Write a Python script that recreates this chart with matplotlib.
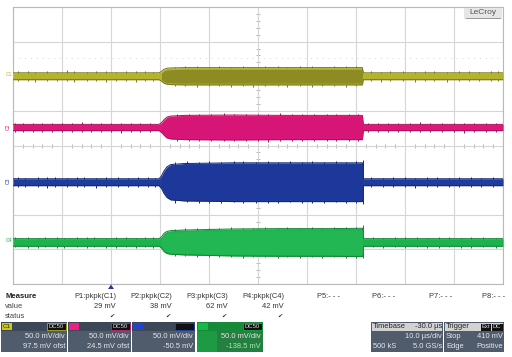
import matplotlib
matplotlib.use('Agg')
import matplotlib.pyplot as plt
from matplotlib.patches import Rectangle, Polygon
import numpy as np

plt.rcParams['font.family'] = ['Liberation Sans', 'DejaVu Sans']

# ---------------- data (read from the screen) ----------------
# time axis: 10 µs/div, 10 divisions, trigger at -20 µs from left edge
t_env = [-20, 9.8, 10.3, 10.8, 11.4, 12.2, 15, 25, 35, 45, 51.3, 51.5, 80]   # µs
channels = ['C1', 'C2', 'C3', 'C4']
centres = [100, 26, -53, -140]          # mV on the 50 mV/div screen
# envelope half-widths (mV)
c1_half = [5.0, 5.0, 7, 10, 11.5, 12.0, 12.5, 12.5, 12.5, 12.5, 12.5, 5.0, 5.0]
c2_half = [4.5, 4.5, 7, 11, 15, 16.5, 17.5, 18, 17.5, 17.5, 17.5, 4.5, 4.5]
c3_half = [5.0, 5.0, 9, 16, 22, 25.5, 27, 28, 28, 28, 28, 5.0, 5.0]
c4_half = [5.5, 5.5, 8, 13, 16, 17, 18, 19.5, 20, 20, 20.5, 5.5, 5.5]
halves = [c1_half, c2_half, c3_half, c4_half]
# noise spikes: time (µs), extent above and below centre (mV)
c1_spk_t = [-19, -17, -15.5, -13, -11, -9, -7.5, -5, -3, -1, 1, 3, 5, 7, 8.5,
            13, 15, 17.5, 20, 22, 24.5, 27, 29, 31.5, 34, 36, 38.5, 41, 43, 45.5, 48, 50,
            53, 55, 57, 59.5, 62, 64, 66, 68.5, 71, 73, 75, 77.5, 79]
c1_spk_up = [7, 8, 6.5, 7.5, 6.5, 8.5, 7, 6.5, 8, 7, 6.5, 7.5, 7, 8, 6.5,
             14, 15, 14.5, 13.5, 15, 14, 15.5, 14, 14.5, 15, 14, 15, 14.5, 13.5, 15, 14.5, 15.5,
             7, 6.5, 8, 7, 6.5, 7.5, 8, 6.5, 7, 7.5, 6.5, 8, 7]
c1_spk_dn = [6.5, 7, 8, 6.5, 7.5, 7, 8.5, 7, 6.5, 8, 7, 6.5, 8, 7, 7.5,
             14.5, 14, 15, 14, 14.5, 15.5, 14, 15, 14, 14.5, 15, 14, 15.5, 14.5, 14, 15, 14.5,
             6.5, 8, 7, 7.5, 8, 6.5, 7, 8, 7.5, 6.5, 7, 7.5, 6.5]
c2_spk_t = [-19.5, -18, -16, -14, -12, -10, -8, -6, -4, -2, 0, 2, 4, 6, 8,
            13.5, 16, 18, 20.5, 23, 25, 27.5, 30, 32, 34.5, 37, 39, 41.5, 44, 46, 48.5, 50.5,
            52.5, 54.5, 56.5, 58.5, 61, 63, 65, 67.5, 70, 72, 74, 76.5, 78.5]
c2_spk_up = [6, 7, 6, 6.5, 7, 6, 6.5, 7.5, 6, 6.5, 7, 6, 6.5, 7, 6,
             19, 20, 19.5, 19, 20.5, 19.5, 19, 20, 19.5, 20.5, 19, 19.5, 20, 19, 20, 19.5, 20,
             6, 6.5, 7, 6, 6.5, 7.5, 6, 6.5, 7, 6, 6.5, 7, 6]
c2_spk_dn = [6.5, 6, 7, 6, 6.5, 7, 6, 6.5, 7, 6, 6.5, 7.5, 6, 6.5, 7,
             19.5, 19, 20, 19.5, 19, 20, 19.5, 19, 20.5, 19, 19.5, 20, 19, 20, 19.5, 19, 20,
             6.5, 7, 6, 6.5, 7, 6, 6.5, 7, 6, 7.5, 6.5, 6, 7]
c3_spk_t = [-19, -17.5, -15, -13, -11.5, -9, -7, -5.5, -3, -1, 1.5, 3.5, 5.5, 7.5, 9,
            13, 15.5, 18, 20, 22.5, 25, 27, 29.5, 32, 34, 36.5, 39, 41, 43.5, 46, 48, 50, 51.4,
            53, 55.5, 57.5, 60, 62, 64.5, 66.5, 69, 71, 73.5, 75.5, 78]
c3_spk_up = [7, 6.5, 7.5, 7, 8, 6.5, 7, 7.5, 6.5, 8, 7, 6.5, 7.5, 7, 6.5,
             29, 30, 29.5, 30.5, 29, 30, 30.5, 29.5, 30, 29, 30.5, 29.5, 30, 29, 30.5, 29.5, 30, 32,
             7, 6.5, 7.5, 7, 6.5, 8, 7, 6.5, 7.5, 7, 6.5, 7]
c3_spk_dn = [6.5, 7.5, 7, 8, 6.5, 7, 7.5, 6.5, 8, 7, 6.5, 7.5, 7, 6.5, 7.5,
             29.5, 29, 30, 29.5, 30.5, 29, 30, 29.5, 30.5, 30, 29, 30, 29.5, 30.5, 29, 30, 29.5, 32,
             6.5, 7.5, 7, 6.5, 8, 7, 6.5, 7.5, 7, 6.5, 7.5, 6.5]
c4_spk_t = [-19.5, -17, -15, -13.5, -11, -9.5, -7, -5, -3.5, -1, 1, 3, 5, 7, 8.5,
            13, 15, 17.5, 20, 22, 24.5, 27, 29, 31.5, 34, 36, 38.5, 41, 43, 45.5, 48, 50, 51.4,
            53.5, 55.5, 58, 60, 62.5, 64.5, 67, 69, 71.5, 73.5, 76, 78.5]
c4_spk_up = [7.5, 8, 7, 8.5, 7.5, 7, 8, 7.5, 8.5, 7, 7.5, 8, 7, 8.5, 7.5,
             19, 20.5, 21, 21.5, 21, 22, 21.5, 21, 22, 21.5, 22, 21.5, 22, 21.5, 22, 22.5, 22, 25,
             7.5, 7, 8, 7.5, 8.5, 7, 7.5, 8, 7, 7.5, 8, 7]
c4_spk_dn = [7, 7.5, 8.5, 7, 8, 7.5, 7, 8.5, 7, 8, 7.5, 7, 8, 7, 7.5,
             19.5, 20, 21.5, 21, 21.5, 21, 22, 21.5, 21, 22, 21.5, 22, 21, 22.5, 21.5, 22, 22.5, 23,
             7, 8, 7, 7.5, 7, 8, 7.5, 7, 8, 7.5, 7, 7.5]
spk_t = [c1_spk_t, c2_spk_t, c3_spk_t, c4_spk_t]
spk_up = [c1_spk_up, c2_spk_up, c3_spk_up, c4_spk_up]
spk_dn = [c1_spk_dn, c2_spk_dn, c3_spk_dn, c4_spk_dn]
burst = (10.0, 51.4)

fill_cols = ['#b3b330', '#e0177a', '#1f3c9c', '#1cb24c']
burst_cols = ['#8c8c22', '#d61577', '#1d389a', '#22b752']
edge_cols = ['#77771a', '#a8105a', '#14286e', '#128536']

# measurements
meas_names = ['P1:pkpk(C1)', 'P2:pkpk(C2)', 'P3:pkpk(C3)', 'P4:pkpk(C4)', 'P5:- - -', 'P6:- - -', 'P7:- - -', 'P8:- - -']
meas_vals = ['29 mV', '38 mV', '62 mV', '42 mV', '', '', '', '']
vdiv = ['50.0 mV/div'] * 4
offsets = ['97.5 mV ofst', '24.5 mV ofst', '-50.5 mV', '-138.5 mV']

# ---------------- figure ----------------
fig = plt.figure(figsize=(5.12, 3.57), dpi=100)
fig.patch.set_facecolor('white')
ax = fig.add_axes([13/512, 1-284/357, 490/512, 277/357])
ax.set_xlim(-20, 80)
ax.set_ylim(-200, 200)
ax.set_xticks(np.arange(-20, 81, 10))
ax.set_yticks(np.arange(-200, 201, 50))
ax.tick_params(length=0, labelbottom=False, labelleft=False)
ax.grid(True, color='#d6d6d6', lw=0.8)
for s in ax.spines.values():
    s.set_color('#b8b8b8'); s.set_linewidth(0.8)
# centre axes with minor ticks
ax.plot(np.arange(-20, 80.1, 2), np.zeros(51), ls='none', marker='|', ms=2.5, mew=0.6, color='#a8a8a8', zorder=1)
ax.plot(np.full(41, 30), np.arange(-200, 200.1, 10), ls='none', marker='_', ms=2.5, mew=0.6, color='#a8a8a8', zorder=1)
ax.axhline(126, color='#c8c8c8', lw=0.6, ls=(0, (1, 6)), zorder=1)

t = np.array(t_env)
inb = (t >= burst[0]) & (t <= burst[1])
for i in range(4):
    c = centres[i]; h = np.array(halves[i])
    ax.vlines(spk_t[i], c - np.array(spk_dn[i]), c + np.array(spk_up[i]), color=edge_cols[i], lw=0.7, zorder=2)
    ax.fill_between(t, c - h, c + h, color=fill_cols[i], lw=0, zorder=3)
    ax.plot(t, c + h, color=edge_cols[i], lw=0.7, zorder=3)
    ax.plot(t, c - h, color=edge_cols[i], lw=0.7, zorder=3)
    ax.fill_between(t, c - h + 2.5, c + h - 2.5, where=inb, color=burst_cols[i], lw=0, zorder=4)

# ---------------- overlay for panel ----------------
ov = fig.add_axes([0, 0, 1, 1])
ov.set_xlim(0, 512); ov.set_ylim(357, 0); ov.axis('off')
ov.patch.set_alpha(0)

lab_y = [74, 127, 181, 240]
rot = [0, 90, 90, 0]
for i in range(4):
    ov.text(8.5, lab_y[i], channels[i], color=fill_cols[i], fontsize=3.6, ha='center', va='center', rotation=rot[i])

# LeCroy logo
ov.add_patch(Rectangle((464, 7.5), 38, 11, color='#e6e6e6', lw=0))
ov.text(483, 13, 'LeCroy', fontsize=6, color='#555555', ha='center', va='center')
ov.plot([466, 500], [17.5, 17.5], color='#777777', lw=0.5)

# trigger marker
ov.add_patch(Polygon([[108, 289], [114, 289], [111, 284.5]], closed=True, color='#2636a8', lw=0))

# measure table
ov.text(5, 296, 'Measure', fontsize=5.6, fontweight='bold', color='#222222', va='center')
ov.text(5, 306, 'value', fontsize=5.4, color='#444444', va='center')
ov.text(5, 316, 'status', fontsize=5.4, color='#444444', va='center')
col_right = [116, 172, 228, 284, 340, 395, 452, 505]
for k in range(8):
    ov.text(col_right[k], 296, meas_names[k], fontsize=5.4, color='#333333', ha='right', va='center')
    if meas_vals[k]:
        ov.text(col_right[k], 306, meas_vals[k], fontsize=5.4, color='#333333', ha='right', va='center')
        ov.text(col_right[k] - 4, 316, '\u2714', fontsize=4.5, color='#333333', ha='center', va='center', family='DejaVu Sans')

# channel boxes
box_x = [1, 68, 132, 197]
box_w = [66, 63, 63, 66]
sq_cols = ['#c8c81e', '#ee1f82', '#2545c8', '#18b848']
for i in range(4):
    x0 = box_x[i]; w = box_w[i]
    base = '#1f9a44' if i == 3 else '#505c6c'
    ov.add_patch(Rectangle((x0, 322), w, 30, color=base, lw=0))
    ov.add_patch(Rectangle((x0, 322), w, 9, color='#3c4757' if i < 3 else '#168a38', lw=0))
    if i == 3:
        ov.add_patch(Rectangle((x0 + 20, 331), w - 20, 21, color='#2a6e40', lw=0, alpha=0.6))
    ov.add_patch(Rectangle((x0 + 1, 323), 10, 7, color=sq_cols[i], lw=0))
    if i == 0:
        ov.text(x0 + 2, 326.5, 'C1', fontsize=4.5, color='#333300', va='center')
    ov.add_patch(Rectangle((x0 + w - 20, 323), 19, 7, facecolor='#111111', edgecolor=sq_cols[i], lw=0.5))
    if i != 2:
        ov.text(x0 + w - 10.5, 326.5, 'DC50', fontsize=4.3, color='#dddddd', ha='center', va='center')
    ov.text(x0 + w - 2, 336.5, vdiv[i], fontsize=5.4, color='#e8e8e8', ha='right', va='center')
    ov.text(x0 + w - 2, 346, offsets[i], fontsize=5.4, color='#e8e8e8' if i < 3 else '#9ff0b0', ha='right', va='center')

# timebase box
ov.add_patch(Rectangle((371, 322), 72, 30, color='#505c6c', lw=0))
ov.add_patch(Rectangle((372, 323), 70, 8, color='#d2d2d2', lw=0))
ov.text(373, 327, 'Timebase', fontsize=5.4, color='#222222', va='center')
ov.text(442, 327, '-30.0 µs', fontsize=5.4, color='#222222', va='center', ha='right')
ov.text(442, 337, '10.0 µs/div', fontsize=5.4, color='#e8e8e8', va='center', ha='right')
ov.text(373, 346.5, '500 kS', fontsize=5.4, color='#e8e8e8', va='center')
ov.text(442, 346.5, '5.0 GS/s', fontsize=5.4, color='#e8e8e8', va='center', ha='right')

# trigger box
ov.add_patch(Rectangle((444, 322), 60, 30, color='#505c6c', lw=0))
ov.add_patch(Rectangle((445, 323), 58, 8, color='#d2d2d2', lw=0))
ov.text(446, 327, 'Trigger', fontsize=5.4, color='#222222', va='center')
ov.add_patch(Rectangle((481, 323.5), 10, 7, color='#111111', lw=0))
ov.add_patch(Rectangle((491.5, 323.5), 11, 7, color='#111111', lw=0))
ov.text(486, 327, 'Ext', fontsize=4.2, color='#dddddd', ha='center', va='center')
ov.text(497, 327, 'DC', fontsize=4.2, color='#dddddd', ha='center', va='center')
ov.text(446, 337, 'Stop', fontsize=5.4, color='#e8e8e8', va='center')
ov.text(503, 337, '410 mV', fontsize=5.4, color='#e8e8e8', va='center', ha='right')
ov.text(446, 346.5, 'Edge', fontsize=5.4, color='#e8e8e8', va='center')
ov.text(503, 346.5, 'Positive', fontsize=5.4, color='#e8e8e8', va='center', ha='right')

fig.savefig('out.png', dpi=100)
